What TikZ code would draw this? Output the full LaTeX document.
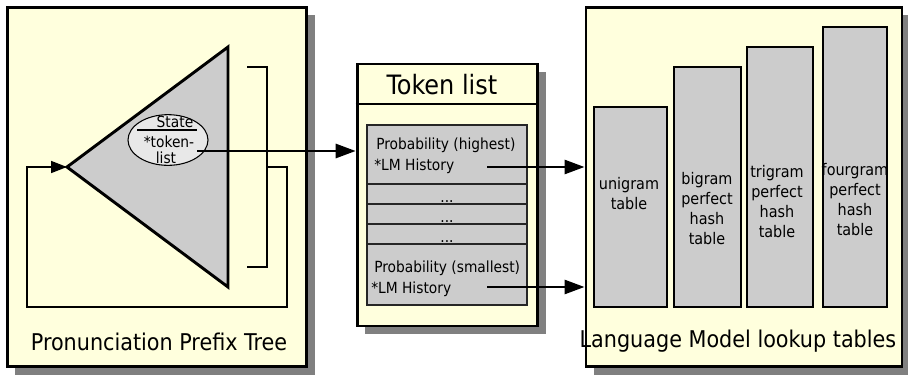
\documentclass[tikz,border=0pt]{standalone}
\usepackage{fontspec}
\setmainfont{DejaVu Sans Condensed}
\usetikzlibrary{shapes.geometric,shadows,arrows.meta}
\definecolor{paneyellow}{HTML}{FFFFDD}
\definecolor{boxgray}{HTML}{CCCCCC}
\definecolor{ovalgray}{HTML}{E8E8E8}
\definecolor{shadowgray}{HTML}{808080}
\tikzset{
  panel/.style={draw=black, line width=2.2pt, fill=paneyellow, inner sep=0pt,
    drop shadow={shadow xshift=6pt, shadow yshift=-6pt, fill=shadowgray, opacity=1}},
  tablebox/.style={draw=black, line width=2.2pt, fill=boxgray, inner sep=0pt},
  paneltitle/.style={font=\fontsize{17.3}{20}\selectfont, inner sep=0pt},
  smalltext/.style={font=\fontsize{11.5}{13}\selectfont, inner sep=0pt},
  tabletext/.style={font=\fontsize{12}{15}\selectfont, align=center, inner sep=0pt},
  pointer/.style={line width=2.1pt, -{Triangle[length=15pt, width=10.5pt]}},
  thinline/.style={line width=1.2pt},
}
\begin{document}
\begin{tikzpicture}[x=0.75pt, y=-0.75pt]
\useasboundingbox (0,0) rectangle (908,376);
\fill[white] (0,0) rectangle (908,376);

% ---- Pronunciation prefix tree ----
\node[panel, minimum width=224.5pt, minimum height=269.5pt] (treepanel) at (157,187) {};
\node[paneltitle] (treetitle) at (159,342) {Pronunciation Prefix Tree};

% bracket at the leaves of the tree
\coordinate (brtop) at (247,67);
\coordinate (brbot) at (247,267);
\draw[thinline] (brtop) -- (267,67) -- (267,267) -- (brbot);

% prefix tree triangle
\coordinate (apex) at (67,167);
\coordinate (ttop) at (228,47);
\coordinate (tbot) at (228,287);
\draw[line width=2.2pt, fill=boxgray, line join=miter] (apex) -- (ttop) -- (tbot) -- cycle;

% feedback loop back to the root
\coordinate (loopstart) at (267,167);
\draw[thinline, -{Triangle[length=12pt, width=9pt]}]
  (loopstart) -- (287,167) -- (287,307) -- (27,307) -- (27,167) -- (apex);

% state with its token list
\node[draw=black, line width=0.8pt, fill=ovalgray, ellipse,
      minimum width=60pt, minimum height=38pt, inner sep=0pt] (state) at (168,140) {};
\node[smalltext] (statelbl) at (175,122) {State};
\draw[line width=0.8pt] (137,130) -- (197,130);
\node[smalltext] (toklbl) at (169,142) {*token-};
\node[smalltext] (listlbl) at (166,158) {list};
\coordinate (tokptr) at (197,151);

% ---- Token list ----
\node[panel, minimum width=135.5pt, minimum height=196.5pt] (tokpanel) at (447.5,195) {};
\draw[line width=2pt] (tokpanel.west |- 0,104) -- (tokpanel.east |- 0,104);
\node[font=\fontsize{20}{22}\selectfont, inner sep=0pt] (toktitle) at (442,85) {Token list};

\node[draw=black!85, line width=1pt, fill=boxgray, minimum width=120pt,
      minimum height=135pt, inner sep=0pt] (entries) at (447,215) {};
\foreach \yy in {184,204,224,244}
  \draw[line width=1.3pt, black!85] (entries.west |- 0,\yy) -- (entries.east |- 0,\yy);

\node[smalltext, anchor=west] (probhi) at (376,145) {Probability (highest)};
\node[smalltext, anchor=west] (histhi) at (374,166) {*LM History};
\node[smalltext, anchor=base] (dotsa) at (447,202) {...};
\node[smalltext, anchor=base] (dotsb) at (447,222) {...};
\node[smalltext, anchor=base] (dotsc) at (447,242) {...};
\node[smalltext, anchor=west] (problo) at (374,268) {Probability (smallest)};
\node[smalltext, anchor=west] (histlo) at (371,289) {*LM History};
\coordinate (ptrhi) at (487,167);
\coordinate (ptrlo) at (487,287);

% ---- Language model lookup tables ----
\node[panel, minimum width=237pt, minimum height=269.5pt] (lmpanel) at (744,187) {};
\node[paneltitle] (lmtitle) at (738,341) {Language Model lookup tables};

\node[tablebox, minimum width=54.75pt, minimum height=150pt] (uni) at (630.5,207) {};
\node[tablebox, minimum width=50.25pt, minimum height=180pt] (bi) at (707.5,187) {};
\node[tablebox, minimum width=49.5pt, minimum height=195pt] (tri) at (780,177) {};
\node[tablebox, minimum width=48pt, minimum height=210pt] (four) at (855,167) {};

\node[tabletext] (unitxt) at (629,194) {unigram\\table};
\node[tabletext] (bitxt) at (707,209) {bigram\\perfect\\hash\\table};
\node[tabletext] (tritxt) at (777,202) {trigram\\perfect\\hash\\table};
\node[tabletext] (fourtxt) at (855,200) {fourgram\\perfect\\hash\\table};

% ---- connectors ----
\draw[pointer] (tokptr) -- (tokptr -| tokpanel.west);
\draw[pointer] (ptrhi) -- (ptrhi -| lmpanel.west);
\draw[pointer] (ptrlo) -- (ptrlo -| lmpanel.west);
\end{tikzpicture}
\end{document}
